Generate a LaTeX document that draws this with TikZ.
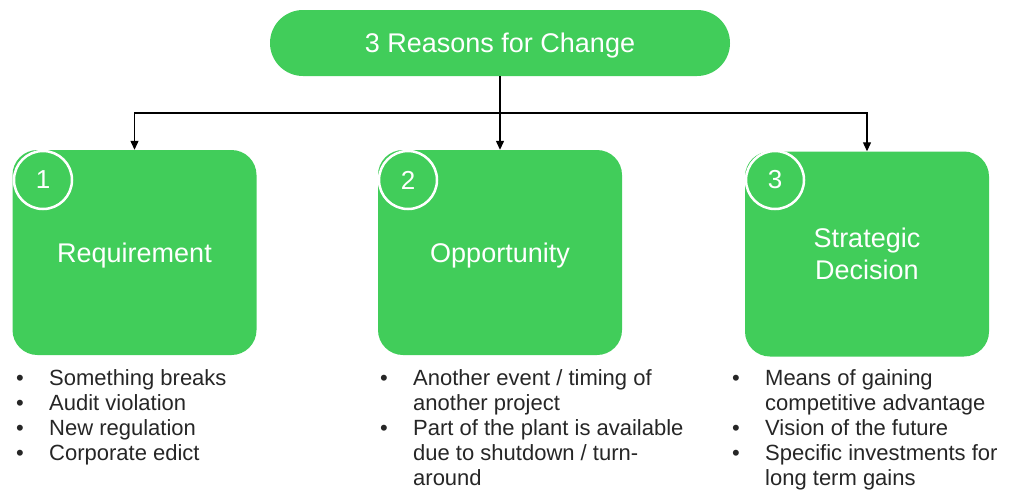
\documentclass[tikz,border=0pt]{standalone}
\usepackage{fontspec}
\setmainfont{Liberation Sans}
\usetikzlibrary{arrows.meta}
\definecolor{leaf}{RGB}{65,205,90}
\definecolor{ink}{RGB}{38,38,38}
\newcommand{\bul}{\makebox[33pt][l]{\textbullet}}
\newcommand{\gap}{\hspace*{33pt}}
\begin{document}
\begin{tikzpicture}[x=1pt,y=1pt,
    reason/.style={fill=leaf,rounded corners=25pt,minimum width=244pt,minimum height=205pt,text=white,align=center,font=\fontsize{27}{32}\selectfont},
    badge/.style={circle,draw=white,line width=2.5pt,fill=leaf,minimum size=58pt,text=white,font=\fontsize{26}{30}\selectfont},
    bullets/.style={anchor=north west,align=left,text=ink,font=\fontsize{22}{25}\selectfont},
    link/.style={line width=1.2pt,-{Triangle[width=8pt,length=9pt]}}]
    \tikzstyle{every node}+=[inner sep=0pt]
    \useasboundingbox (0,0) rectangle (1016,-491);
    \node [fill=leaf,rounded corners=33pt,minimum width=460pt,minimum height=66pt,text=white,text height=19pt,text depth=0pt,font=\fontsize{27}{32}\selectfont] (change) at (500,-43) {3 Reasons for Change};
    \node [reason,text height=19pt,text depth=0pt] (req) at (134.5,-252.5) {Requirement};
    \node [reason,text height=19pt,text depth=0pt] (opp) at (500,-252.5) {Opportunity};
    \node [reason] (strat) at (867,-254) {Strategic\\Decision};
    \node [badge] (n1) at (43,-180) {1};
    \node [badge] (n2) at (408,-180) {2};
    \node [badge] (n3) at (775,-180) {3};
    \coordinate (fork) at (500,-113);
    \draw [line width=1.2pt] (change.south) -- (fork);
    \draw [link] (fork) -| (req.north);
    \draw [link] (fork) -- (opp.north);
    \draw [link] (fork) -| (strat.north);
    \node [bullets] (reqlist) at (16,-369) {\bul Something breaks\\\bul Audit violation\\\bul New regulation\\\bul Corporate edict};
    \node [bullets] (opplist) at (380,-369) {\bul Another event / timing of\\\gap another project\\\bul Part of the plant is available\\\gap due to shutdown / turn-\\\gap around};
    \node [bullets] (stratlist) at (732,-369) {\bul Means of gaining\\\gap competitive advantage\\\bul Vision of the future\\\bul Specific investments for\\\gap long term gains};
\end{tikzpicture}
\end{document}
